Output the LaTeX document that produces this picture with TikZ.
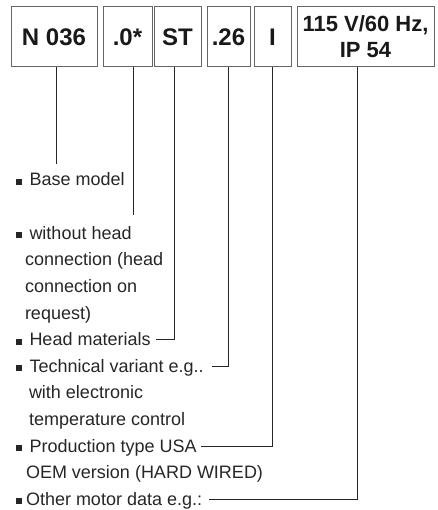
\documentclass[tikz,border=0pt]{standalone}
\usepackage{fontspec}
\setmainfont{Liberation Sans}
\newcommand{\bul}{\rule[1pt]{6pt}{6pt}}
\begin{document}
\begin{tikzpicture}[x=1pt,y=-1pt,
  codebox/.style={draw=black!60, line width=1pt, inner sep=0pt, outer sep=0pt,
    minimum height=60pt, text=black!90, font=\fontsize{24}{28}\selectfont\bfseries},
  item/.style={anchor=base west, inner sep=0pt, outer sep=0pt, text height=12pt,
    text depth=0pt, text=black!85, font=\fontsize{18}{20}\selectfont},
  conn/.style={draw=black!85, line width=1pt}]
\useasboundingbox (0,0) rectangle (437,510);
% code boxes
\node[codebox, minimum width=86pt] (b1) at (54,37) {N 036};
\node[codebox, minimum width=49pt] (b2) at (127.5,37) {.0*};
\node[codebox, minimum width=47pt] (b3) at (177.5,37) {ST};
\node[codebox, minimum width=43pt] (b4) at (228.5,37) {.26};
\node[codebox, minimum width=37pt] (b5) at (272.5,37) {I};
\node[codebox, minimum width=137pt, align=center, font=\fontsize{22}{26}\selectfont\bfseries] (b6) at (365.5,37) {115 V/60 Hz,\\IP 54};
% texts
\node[item] (t0) at (15.5,186) {\bul\hspace{8pt}Base model};
\node[item] (t1) at (15.5,239.2) {\bul\hspace{8pt}without head};
\node[item] (c1a) at (25,265.8) {connection (head};
\node[item] (c1b) at (25,292.4) {connection on};
\node[item] (c1c) at (25,319) {request)};
\node[item] (t2) at (15.5,345.6) {\bul\hspace{8pt}Head materials};
\node[item] (t3) at (15.5,372.2) {\bul\hspace{8pt}Technical variant e.g..};
\node[item] (c3a) at (29,398.8) {with electronic};
\node[item] (c3b) at (29,425.4) {temperature control};
\node[item] (t4) at (15.5,452) {\bul\hspace{8pt}Production type USA};
\node[item] (c4a) at (26,478.6) {OEM version (HARD WIRED)};
\node[item] (t5) at (15.5,505.2) {\bul\hspace{4.5pt}Other motor data e.g.:};
% connectors
\coordinate (e1) at (56,164);
\coordinate (e2) at (133,215);
\draw[conn] (b1.south -| e1) -- (e1);
\draw[conn] (b2.south -| e2) -- (e2);
\draw[conn] ([xshift=-3.5pt]b3.south) |- ([xshift=5pt]t2.east);
\draw[conn] ([xshift=-0.5pt]b4.south) |- ([xshift=8pt]t3.east);
\draw[conn] ([xshift=-0.5pt]b5.south) |- ([xshift=4pt]t4.east);
\draw[conn] ([xshift=-8.5pt]b6.south) |- ([xshift=7pt]t5.east);
\end{tikzpicture}
\end{document}
